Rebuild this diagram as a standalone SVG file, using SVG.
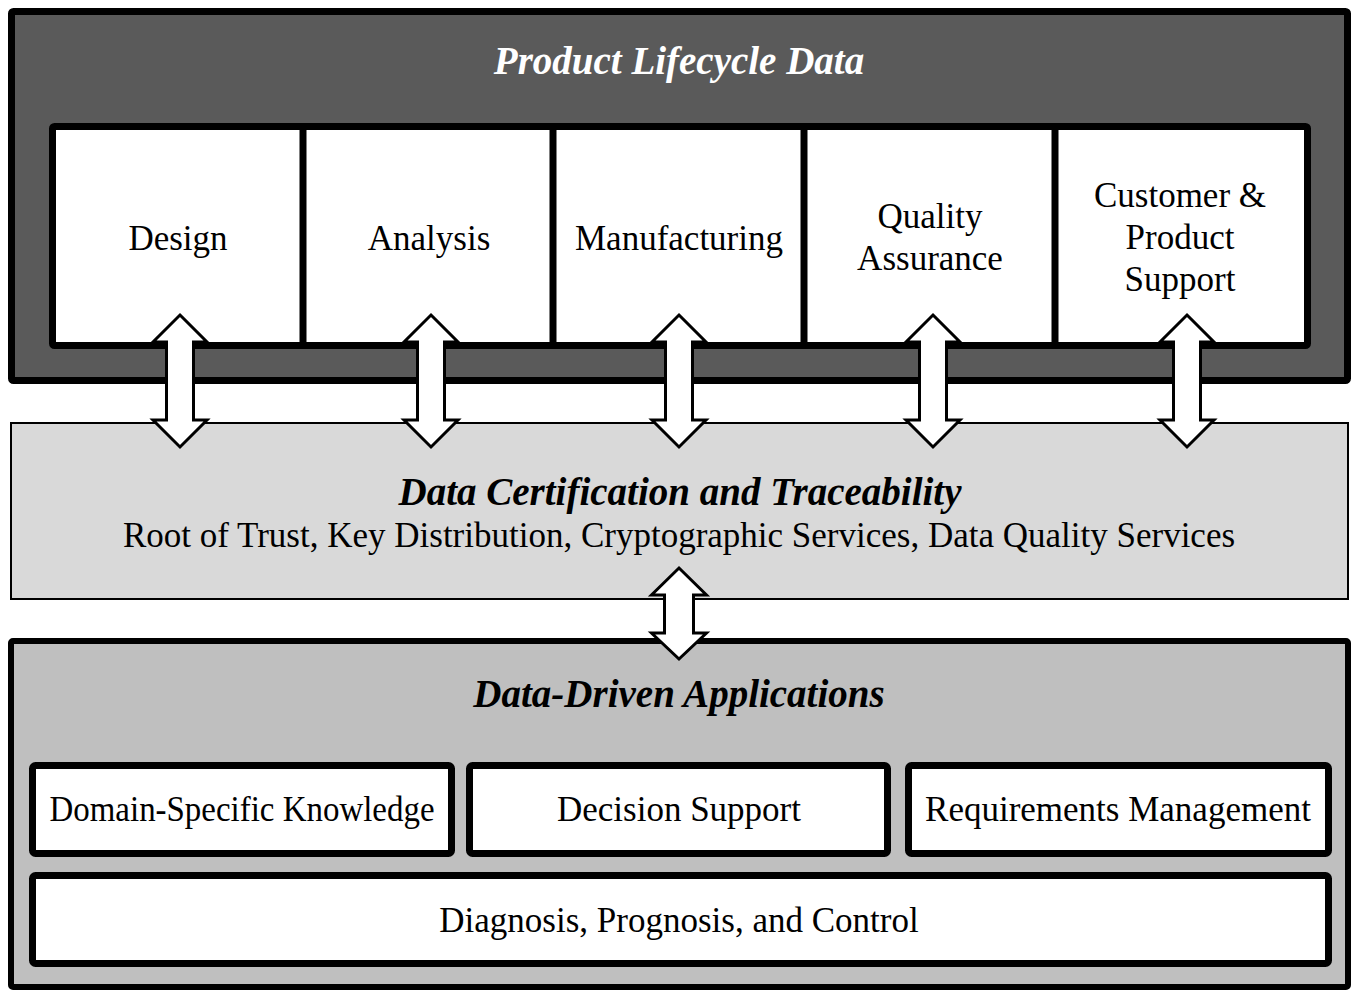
<svg xmlns="http://www.w3.org/2000/svg" width="1357" height="992" viewBox="0 0 1357 992">
<style>
.t{font-family:"Liberation Serif","Times New Roman",serif;font-size:35px;fill:#000;text-anchor:middle}
.h{font-family:"Liberation Serif","Times New Roman",serif;font-size:39px;font-weight:bold;font-style:italic;text-anchor:middle}
.box{fill:#fff;stroke:#000;stroke-width:7}
.arr{fill:#fff;stroke:#000;stroke-width:3;stroke-linejoin:miter}
</style>
<rect width="1357" height="992" fill="#fff"/>
<g id="lifecycle">
<rect x="11.5" y="11.5" width="1336" height="369" fill="#5a5a5a" stroke="#000" stroke-width="7" rx="2"/>
<text class="h" x="679" y="74" fill="#fff">Product Lifecycle Data</text>
<rect class="box" x="52.5" y="126.5" width="1255" height="219" rx="2"/>
<g stroke="#000" stroke-width="7">
<line x1="303" y1="127" x2="303" y2="346"/>
<line x1="553" y1="127" x2="553" y2="346"/>
<line x1="804" y1="127" x2="804" y2="346"/>
<line x1="1055" y1="127" x2="1055" y2="346"/>
</g>
</g>
<g id="design"><text class="t" x="178" y="250">Design</text></g>
<g id="analysis"><text class="t" x="429" y="250">Analysis</text></g>
<g id="manufacturing"><text class="t" x="679" y="250">Manufacturing</text></g>
<g id="qa"><text class="t" x="930" y="228">Quality</text><text class="t" x="930" y="270">Assurance</text></g>
<g id="customer"><text class="t" x="1180" y="207">Customer &amp;</text><text class="t" x="1180" y="249">Product</text><text class="t" x="1180" y="291">Support</text></g>
<g id="certification">
<rect x="11" y="423" width="1337" height="176" fill="#d9d9d9" stroke="#000" stroke-width="2"/>
<text class="h" x="680" y="505" fill="#000">Data Certification and Traceability</text>
<text class="t" x="679" y="547">Root of Trust, Key Distribution, Cryptographic Services, Data Quality Services</text>
</g>
<g id="applications">
<rect x="11" y="641" width="1337" height="346" fill="#bfbfbf" stroke="#000" stroke-width="6" rx="2"/>
<text class="h" x="679" y="707" fill="#000">Data-Driven Applications</text>
</g>
<g id="domain"><rect class="box" x="32.5" y="765.5" width="419" height="88" rx="3"/><text class="t" x="242" y="821" textLength="385" lengthAdjust="spacingAndGlyphs">Domain-Specific Knowledge</text></g>
<g id="decision"><rect class="box" x="469.5" y="765.5" width="418" height="88" rx="3"/><text class="t" x="679" y="821">Decision Support</text></g>
<g id="requirements"><rect class="box" x="908.5" y="765.5" width="420" height="88" rx="3"/><text class="t" x="1118" y="821">Requirements Management</text></g>
<g id="diagnosis"><rect class="box" x="32.5" y="875.5" width="1296" height="88" rx="3"/><text class="t" x="679" y="932">Diagnosis, Prognosis, and Control</text></g>
<g id="connectors">
<path class="arr" d="M180,315 L207,342 L193.5,342 L193.5,420 L207,420 L180,447 L153,420 L166.5,420 L166.5,342 L153,342 Z"/>
<path class="arr" d="M431,315 L458,342 L444.5,342 L444.5,420 L458,420 L431,447 L404,420 L417.5,420 L417.5,342 L404,342 Z"/>
<path class="arr" d="M679,315 L706,342 L692.5,342 L692.5,420 L706,420 L679,447 L652,420 L665.5,420 L665.5,342 L652,342 Z"/>
<path class="arr" d="M933,315 L960,342 L946.5,342 L946.5,420 L960,420 L933,447 L906,420 L919.5,420 L919.5,342 L906,342 Z"/>
<path class="arr" d="M1187,315 L1214,342 L1200.5,342 L1200.5,420 L1214,420 L1187,447 L1160,420 L1173.5,420 L1173.5,342 L1160,342 Z"/>
<path class="arr" d="M679,568 L706.5,595 L693.5,595 L693.5,633 L706.5,633 L679,659 L651.5,633 L664.5,633 L664.5,595 L651.5,595 Z"/>
</g>
</svg>
